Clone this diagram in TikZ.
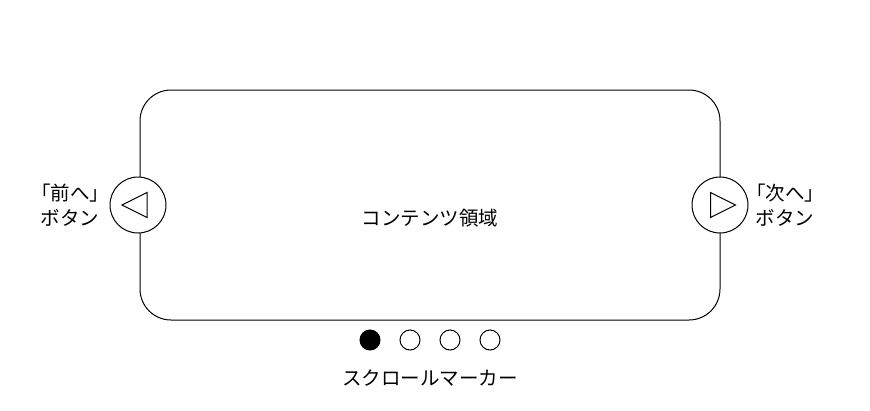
\documentclass[tikz,border=0pt]{standalone}
\usepackage{fontspec}
\setmainfont{Noto Sans CJK JP}
\begin{document}
\begin{tikzpicture}[x=1pt,y=-1pt,
  lw/.style={line width=1pt},
  navbtn/.style={draw,lw,circle,fill=white,minimum size=56pt,inner sep=0pt},
  dotm/.style={draw,lw,circle,minimum size=20pt,inner sep=0pt},
  lbl/.style={font=\fontsize{19.5}{25}\selectfont,align=center,inner sep=0pt}]
\useasboundingbox (0,0) rectangle (870,410);
\node[draw,lw,rounded corners=31pt,minimum width=580pt,minimum height=230pt,inner sep=0pt] (content) at (430,205) {};
\node[lbl] (ctext) at (430,218) {コンテンツ領域};
\node[navbtn] (prev) at (138,205) {};
\node[navbtn] (next) at (720,205) {};
\draw[lw] (122,205) -- (147,192.5) -- (147,217.5) -- cycle;
\draw[lw] (735.5,205) -- (710.5,192.5) -- (710.5,217.5) -- cycle;
\node[lbl] (prevl) at (70,205.5) {「前へ」\\ボタン};
\node[lbl] (nextl) at (785,205.5) {「次へ」\\ボタン};
\node[dotm,fill=black] (d1) at (370,340) {};
\node[dotm] (d2) at (410,340) {};
\node[dotm] (d3) at (450,340) {};
\node[dotm] (d4) at (490,340) {};
\node[lbl] (mlabel) at (430,378) {スクロールマーカー};
\end{tikzpicture}
\end{document}
